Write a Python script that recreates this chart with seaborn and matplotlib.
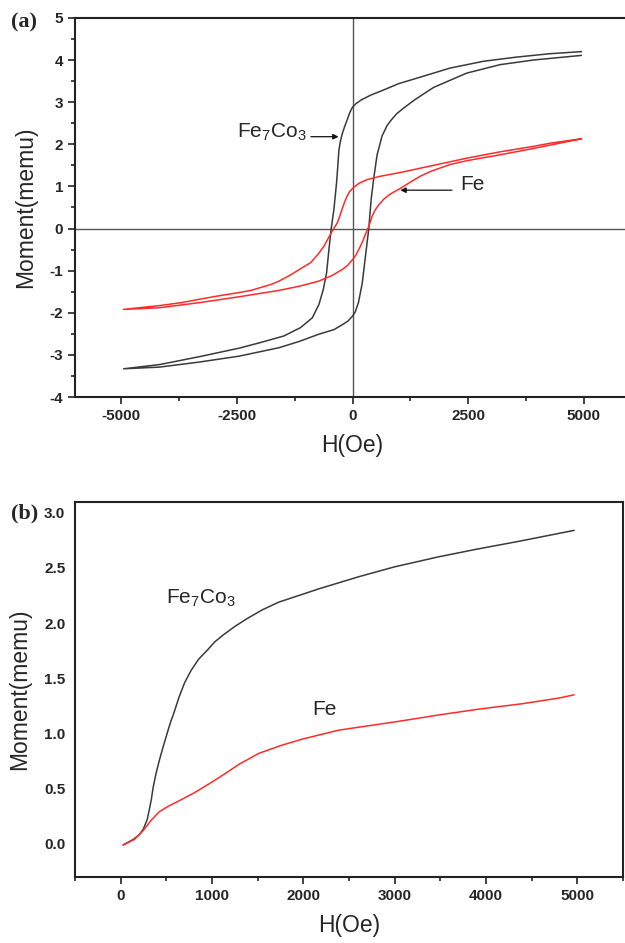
import matplotlib
matplotlib.use("Agg")
import matplotlib.pyplot as plt
import numpy as np
import pandas as pd
import seaborn as sns
from matplotlib.ticker import MultipleLocator

# ---- (a) hysteresis loops: field (Oe) and moment (memu) ----
# Fe7Co3: descending branch (+5000 -> -5000) then ascending branch (-5000 -> +5000)
feco_h = [4950, 4267, 3549, 2830, 2112, 1394, 1000, 675, 400, 200, 80, 0, -60,
          -115, -170, -222, -265, -295, -320, -345, -375, -402, -460, -510, -560,
          -632, -725, -869, -1120, -1480, -2000, -2450, -3300, -4170, -4950,
          -4170, -3310, -2450, -1590, -1150, -730, -400, -215, -100, 0, 60, 130,
          210, 280, 352, 403, 460, 532, 640, 750, 840, 950, 1106, 1350, 1753,
          2471, 3190, 3908, 4950]
feco_m = [4.20, 4.15, 4.07, 3.97, 3.81, 3.57, 3.44, 3.29, 3.17, 3.06, 2.97, 2.88,
          2.75, 2.58, 2.42, 2.25, 2.05, 1.85, 1.45, 1.08, 0.75, 0.45, 0.00, -0.50,
          -1.05, -1.45, -1.80, -2.12, -2.35, -2.55, -2.71, -2.84, -3.04, -3.23,
          -3.33,
          -3.29, -3.17, -3.03, -2.83, -2.68, -2.51, -2.40, -2.28, -2.20, -2.08,
          -1.98, -1.75, -1.30, -0.66, 0.00, 0.69, 1.20, 1.75, 2.20, 2.45, 2.58,
          2.72, 2.86, 3.06, 3.35, 3.69, 3.89, 4.00, 4.11]

# Fe: descending branch then ascending branch
fe_h = [4950, 4300, 3908, 3190, 2471, 1753, 1034, 600, 316, 150, 28, -60, -115,
        -170, -222, -280, -330, -438, -618, -750, -905, -1160, -1336, -1591,
        -1767, -2198, -2451, -2900, -3310, -3700, -4170, -4950,
        -4170, -3310, -2451, -1591, -1150, -731, -450, -215, -100, 0, 80, 172,
        240, 300, 352, 424, 490, 567, 680, 819, 1034, 1250, 1480, 1700, 2112,
        2471, 3190, 3908, 4500, 4950]
fe_m = [2.13, 2.03, 1.95, 1.82, 1.67, 1.50, 1.33, 1.24, 1.16, 1.08, 0.98, 0.88,
        0.77, 0.63, 0.47, 0.28, 0.13, -0.06, -0.42, -0.62, -0.81, -0.98, -1.10,
        -1.25, -1.33, -1.47, -1.52, -1.60, -1.68, -1.76, -1.83, -1.92,
        -1.88, -1.76, -1.62, -1.47, -1.37, -1.25, -1.12, -0.97, -0.87, -0.74,
        -0.62, -0.42, -0.25, -0.08, 0.05, 0.29, 0.44, 0.56, 0.70, 0.82, 0.95,
        1.10, 1.25, 1.36, 1.52, 1.61, 1.75, 1.90, 2.03, 2.13]

# ---- (b) initial magnetization curves ----
init_feco_h = [27, 137, 200, 246, 290, 311, 335, 355, 385, 421, 465, 508, 545,
               580, 639, 700, 770, 850, 943, 1030, 1118, 1250, 1382, 1550, 1731,
               1950, 2168, 2605, 3000, 3478, 3900, 4353, 4964]
init_feco_m = [-0.01, 0.04, 0.08, 0.13, 0.22, 0.30, 0.40, 0.51, 0.63, 0.75, 0.88,
               1.00, 1.10, 1.18, 1.33, 1.46, 1.57, 1.67, 1.75, 1.83, 1.89, 1.97,
               2.04, 2.12, 2.19, 2.25, 2.31, 2.42, 2.51, 2.60, 2.67, 2.74, 2.84]
init_fe_h = [27, 151, 246, 330, 421, 520, 639, 800, 1000, 1150, 1294, 1513, 1750,
             1993, 2386, 3042, 3500, 3915, 4400, 4790, 4964]
init_fe_m = [-0.01, 0.04, 0.12, 0.21, 0.29, 0.34, 0.39, 0.46, 0.56, 0.64, 0.72,
             0.82, 0.89, 0.95, 1.03, 1.11, 1.17, 1.22, 1.27, 1.32, 1.35]

samples = ["Fe7Co3", "Fe"]
colors = {"Fe7Co3": "#3a3a3a", "Fe": "#ff2a2a"}

loops = pd.concat([
    pd.DataFrame({"H": feco_h, "M": feco_m, "sample": "Fe7Co3"}),
    pd.DataFrame({"H": fe_h, "M": fe_m, "sample": "Fe"}),
], ignore_index=True)
initial = pd.concat([
    pd.DataFrame({"H": init_feco_h, "M": init_feco_m, "sample": "Fe7Co3"}),
    pd.DataFrame({"H": init_fe_h, "M": init_fe_m, "sample": "Fe"}),
], ignore_index=True)

sns.set_style("ticks")
plt.rcParams["font.family"] = ["Liberation Sans", "DejaVu Sans"]
plt.rcParams["mathtext.fontset"] = "custom"
plt.rcParams["mathtext.rm"] = "Liberation Sans"

fig = plt.figure(figsize=(6.25, 9.43), dpi=100)
ax_a = fig.add_axes([0.12, 0.579, 0.888, 0.402])
ax_b = fig.add_axes([0.12, 0.070, 0.877, 0.398])

spine_color = "#222222"
for ax in (ax_a, ax_b):
    for s in ax.spines.values():
        s.set_linewidth(1.5)
        s.set_color(spine_color)
        s.set_visible(True)
    ax.tick_params(which="both", direction="out", color=spine_color, width=1.2)
    ax.tick_params(which="major", length=5, labelsize=11)
    ax.tick_params(which="minor", length=3)

# (a) axes cross lines
ax_a.axhline(0, color="#555555", lw=1.0, zorder=1)
ax_a.axvline(0, color="#555555", lw=1.0, zorder=1)

sns.lineplot(data=loops, x="H", y="M", hue="sample", hue_order=samples,
             palette=colors, sort=False, estimator=None, lw=1.1,
             legend=False, ax=ax_a, zorder=3)
sns.lineplot(data=initial, x="H", y="M", hue="sample", hue_order=samples,
             palette=colors, sort=False, estimator=None, lw=1.1,
             legend=False, ax=ax_b, zorder=3)

ax_a.set_xlim(-6000, 6000)
ax_a.set_ylim(-4, 5)
ax_a.xaxis.set_minor_locator(MultipleLocator(1250))
ax_a.yaxis.set_minor_locator(MultipleLocator(0.5))
ax_a.set_xticks([-5000, -2500, 0, 2500, 5000])
ax_a.set_xticklabels(["-5000", "-2500", "0", "2500", "5000"], fontweight="bold")
ax_a.set_yticks(range(-4, 6))
ax_a.set_yticklabels([str(v) for v in range(-4, 6)], fontweight="bold")

ax_b.set_xlim(-500, 5500)
ax_b.set_ylim(-0.3, 3.1)
ax_b.xaxis.set_minor_locator(MultipleLocator(500))
ax_b.set_xticks(range(0, 5001, 1000))
ax_b.set_xticklabels([str(v) for v in range(0, 5001, 1000)], fontweight="bold")
yb = [0.0, 0.5, 1.0, 1.5, 2.0, 2.5, 3.0]
ax_b.set_yticks(yb)
ax_b.set_yticklabels([f"{v:.1f}" for v in yb], fontweight="bold")
ax_b.tick_params(axis="y", which="both", length=0, pad=7)

for ax in (ax_a, ax_b):
    ax.set_xlabel("H(Oe)", fontsize=16.5, labelpad=8)
    ax.set_ylabel("Moment(memu)", fontsize=16.5, labelpad=9)

# labels with arrows
arrow = dict(arrowstyle="-|>", color="#111111", lw=0.9, mutation_scale=8,
             shrinkA=0, shrinkB=0)
ax_a.text(-1000, 2.28, r"$\mathregular{Fe_7Co_3}$", fontsize=15,
          ha="right", va="center")
ax_a.annotate("", xy=(-300, 2.18), xytext=(-900, 2.18), arrowprops=arrow)
ax_a.text(2330, 1.04, "Fe", fontsize=15, ha="left", va="center")
ax_a.annotate("", xy=(1034, 0.91), xytext=(2150, 0.91), arrowprops=arrow)

ax_b.text(500, 2.22, r"$\mathregular{Fe_7Co_3}$", fontsize=15,
          ha="left", va="center")
ax_b.text(2100, 1.22, "Fe", fontsize=15, ha="left", va="center")

fig.text(0.018, 1 - 22 / 943, "(a)", fontsize=16, fontweight="bold",
         family="Liberation Serif", va="center", ha="left")
fig.text(0.018, 1 - 513 / 943, "(b)", fontsize=16, fontweight="bold",
         family="Liberation Serif", va="center", ha="left")

fig.savefig("out.png", dpi=100)
